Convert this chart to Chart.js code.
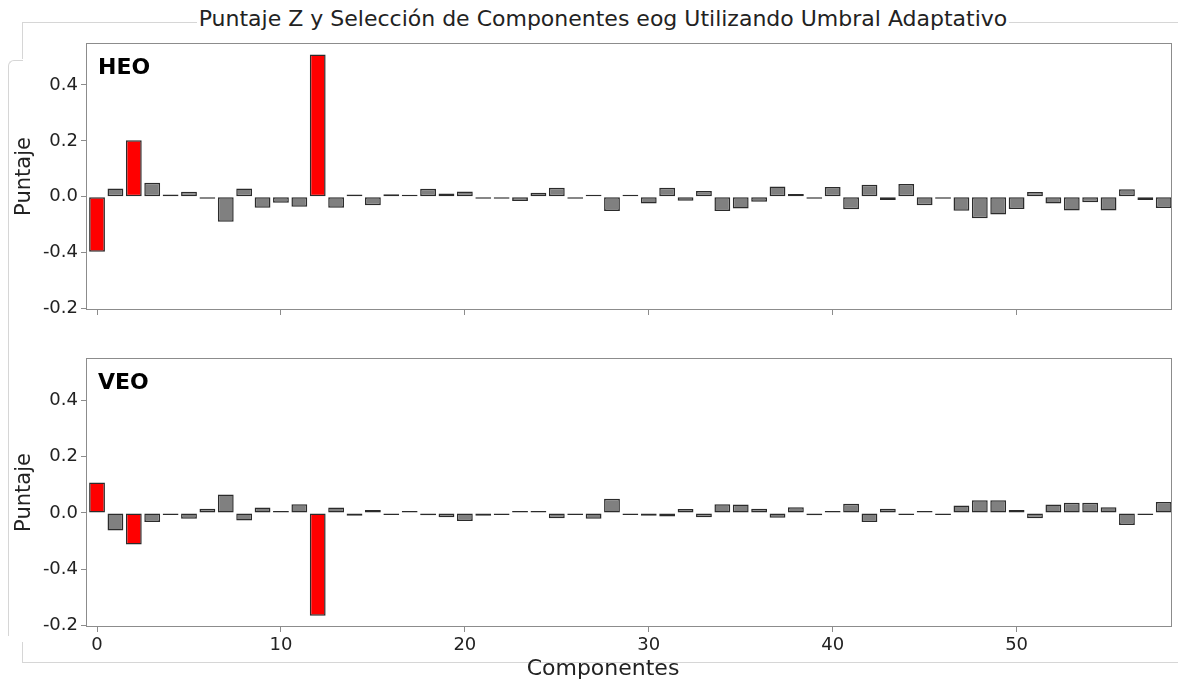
<!DOCTYPE html>
<html><head><meta charset="utf-8">
<script src="https://cdn.jsdelivr.net/npm/chart.js@4"></script>
<style>
html,body{margin:0;padding:0;background:#fff;}
#wrap{position:relative;width:1178px;height:682px;overflow:hidden;font-family:"DejaVu Sans",sans-serif;}
.ln{position:absolute;border-color:#d6d6d6;border-style:solid;border-width:0;}
#title{position:absolute;left:0;width:1206px;top:6px;text-align:center;font-size:22px;color:#222;background:transparent;}
#title span{background:#fff;padding:0 2px;}
#xt{position:absolute;left:403px;width:400px;top:655px;text-align:center;font-size:22px;color:#222;}
#w1{position:absolute;left:0;top:0;width:1178px;height:330px;}
#w2{position:absolute;left:0;top:330px;width:1178px;height:352px;}
</style></head>
<body><div id="wrap">
<div class="ln" style="left:22px;top:22px;right:0;height:36px;border-top-width:1px;border-left-width:1px;"></div>
<div class="ln" style="left:8px;top:60px;width:14px;height:575px;border-top-width:1px;border-left-width:1px;border-top-left-radius:6px;"></div>
<div class="ln" style="left:22px;top:642px;right:0;height:20px;border-left-width:1px;border-bottom-width:1px;"></div>
<div id="title"><span>Puntaje Z y Selección de Componentes eog Utilizando Umbral Adaptativo</span></div>
<div id="w1"><canvas id="c1"></canvas></div>
<div id="w2"><canvas id="c2"></canvas></div>
<div id="xt">Componentes</div>
</div>
<script>
const components = Array.from({length:59},(_,i)=>i);
const heoScores = [-0.197,0.030,0.202,0.050,0.008,0.018,-0.003,-0.089,0.030,-0.039,-0.021,-0.036,0.509,-0.039,0.008,-0.030,
 0.009,0.006,0.029,0.012,0.019,-0.005,-0.005,-0.015,0.014,0.032,-0.002,0.003,-0.051,0.003,-0.024,0.032,-0.014,0.021,-0.051,-0.042,-0.018,0.037,
 0.010,-0.002,0.035,-0.045,0.043,-0.012,0.046,-0.030,-0.006,-0.050,-0.077,-0.063,-0.044,0.017,-0.024,-0.049,-0.020,-0.049,0.027,-0.012,-0.040];
const veoScores = [0.108,-0.062,-0.112,-0.032,-0.005,-0.021,0.015,0.065,-0.027,0.019,0.003,0.031,-0.365,0.019,-0.010,0.010,
 -0.005,0.004,-0.008,-0.015,-0.029,-0.010,-0.005,0.003,0.001,-0.019,-0.002,-0.021,0.050,-0.004,-0.010,-0.013,0.014,-0.015,0.031,0.030,0.015,-0.017,
 0.020,-0.008,0.004,0.033,-0.032,0.015,-0.005,0.003,-0.005,0.026,0.045,0.045,0.010,-0.019,0.030,0.036,0.036,0.020,-0.043,-0.003,0.039];
const selectedHEO = [0,2,12];
const selectedVEO = [0,2,12];
const xTickValues = [0,10,20,30,40,50];
const yTickValues = [-0.4,-0.2,0.0,0.2,0.4];
const yTickLabels = ["-0.2","-0.4","0.0","0.2","0.4"];
const panelNames = ["HEO","VEO"];

const frame = {
  id:'frame',
  afterDraw(chart, args, opts){
    const a = chart.chartArea, ctx = chart.ctx;
    ctx.save();
    ctx.strokeStyle = '#8c8c8c'; ctx.lineWidth = 1;
    ctx.strokeRect(Math.round(a.left)+0.5, Math.round(a.top)+0.5, Math.round(a.right-a.left)-1, Math.round(a.bottom-a.top)-1);
    ctx.fillStyle = '#000'; ctx.font = 'bold 22px "DejaVu Sans"';
    ctx.textBaseline = 'top'; ctx.textAlign = 'left';
    ctx.fillText(opts.label, a.left + 12, a.top + 14);
    ctx.restore();
  }
};

function makeChart(id, scores, sel, label, showX, padTop, xHeight){
  const data = components.map((c,i)=>({x:c, y:scores[i]}));
  const colors = components.map(c=> sel.includes(c) ? '#ff0000' : '#808080');
  return new Chart(document.getElementById(id), {
    type:'bar',
    data:{datasets:[{data, backgroundColor:colors, borderColor:'#2b2b2b', borderWidth:1.5, borderSkipped:false,
      minBarLength:2, barPercentage:0.86, categoryPercentage:1}]},
    plugins:[frame],
    options:{
      responsive:true, maintainAspectRatio:false, animation:false,
      layout:{padding:{top:padTop, right:6, left:0, bottom:0}},
      plugins:{legend:{display:false}, tooltip:{enabled:false}, frame:{label}},
      scales:{
        x:{type:'linear', min:-0.6, max:58.45, offset:false,
          afterBuildTicks(s){ s.ticks = xTickValues.map(v=>({value:v})); },
          afterFit(s){ s.height = xHeight; },
          grid:{display:true, offset:false, drawOnChartArea:false, drawTicks:true, tickLength:5, color:'#8c8c8c'},
          border:{display:false},
          ticks:{display:showX, color:'#222', font:{family:'DejaVu Sans', size:18}, padding:3, maxRotation:0}
        },
        y:{type:'linear', min:-0.405, max:0.55,
          afterBuildTicks(s){ s.ticks = yTickValues.map(v=>({value:v})); },
          afterFit(s){ s.width = 86; },
          grid:{display:true, drawOnChartArea:false, drawTicks:true, tickLength:5, color:'#8c8c8c'},
          border:{display:false},
          title:{display:true, text:'Puntaje', color:'#222', font:{family:'DejaVu Sans', size:21}, padding:{top:12,bottom:0}},
          ticks:{color:'#222', font:{family:'DejaVu Sans', size:18}, padding:3,
            callback(v){ const k = yTickValues.findIndex(t=>Math.abs(t-v)<1e-9); return k>=0 ? yTickLabels[k] : ''; }}
        }
      }
    }
  });
}
makeChart('c1', heoScores, selectedHEO, panelNames[0], false, 43, 20);
makeChart('c2', veoScores, selectedVEO, panelNames[1], true, 28, 55);
</script>
</body></html>
